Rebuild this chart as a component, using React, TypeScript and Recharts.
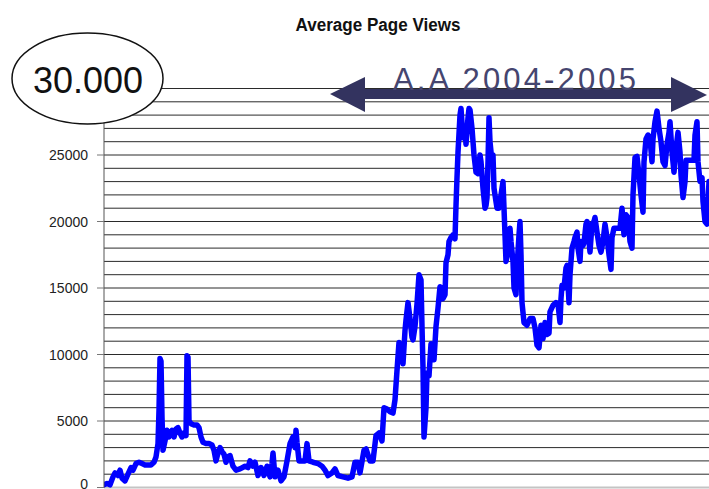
import React from "react";
import {
  LineChart,
  Line,
  XAxis,
  YAxis,
  CartesianGrid,
  ReferenceLine,
} from "recharts";

// day index from the left edge of the plot
const days = [
  0, 3, 6, 9, 11, 14, 16, 18, 21, 24,
  27, 29, 32, 35, 38, 41, 44, 47, 50, 52,
  54, 55, 56, 57, 58, 59, 61, 63, 65, 68,
  70, 72, 74, 76, 78, 80, 82, 83, 84, 85,
  87, 90, 93, 95, 97, 99, 102, 105, 108, 110,
  112, 114, 116, 118, 120, 122, 124, 126, 129, 132,
  136, 141, 144, 146, 149, 151, 154, 157, 160, 163,
  166, 168, 169, 171, 174, 177, 180, 183, 186, 189,
  191, 192, 193, 195, 198, 201, 203, 205, 209, 214,
  218, 221, 224, 228, 231, 234, 239, 244, 248, 251,
  254, 256, 260, 262, 266, 269, 272, 275, 278, 280,
  283, 286, 289, 291, 293, 295, 297, 299, 301, 302,
  304, 306, 308, 309, 311, 313, 315, 317, 318, 319,
  320, 322, 323, 325, 327, 329, 330, 332, 334, 336,
  338, 339, 341, 342, 344, 345, 347, 349, 351, 352,
  353, 354, 356, 357, 359, 361, 362, 364, 365, 366,
  368, 370, 372, 374, 376, 377, 379, 381, 382, 383,
  384, 385, 386, 388, 389, 390, 392, 393, 395, 397,
  399, 401, 402, 404, 406, 407, 409, 410, 412, 413,
  415, 416, 417, 418, 420, 423, 426, 429, 431, 433,
  435, 437, 439, 441, 443, 445, 446, 449, 452, 454,
  456, 457, 458, 460, 462, 463, 465, 466, 468, 470,
  471, 473, 474, 476, 477, 479, 480, 482, 483, 485,
  486, 488, 490, 491, 493, 495, 497, 499, 501, 503,
  505, 507, 508, 510, 513, 516, 518, 520, 522, 524,
  526, 528, 529, 531, 533, 535, 537, 539, 540, 542,
  544, 546, 548, 549, 551, 553, 555, 557, 559, 561,
  563, 565, 566, 568, 570, 572, 574, 576, 577, 579,
  581, 582, 584, 586, 588, 590, 591, 593, 594, 596,
  598, 599, 601, 603, 605,
];

const views = [
  200, 300, 200, 800, 1100, 900, 1300, 700, 500, 1000,
  1500, 1300, 1800, 1900, 1800, 1700, 1700, 1700, 1900, 2300,
  3300, 5800, 9700, 9500, 5300, 2800, 3500, 4300, 3800, 4300,
  3800, 4400, 4500, 4100, 3800, 4100, 3900, 9900, 9800, 5000,
  4800, 4700, 4700, 4500, 3800, 3400, 3300, 3300, 3200, 2800,
  2000, 2600, 3000, 2700, 2500, 1900, 2300, 2400, 1600, 1300,
  1400, 1600, 1500, 2000, 1600, 1900, 900, 1500, 900, 1600,
  800, 1800, 2600, 800, 1300, 500, 800, 2000, 3300, 3800,
  3000, 4300, 3400, 2000, 2000, 2000, 3300, 2000, 1900, 1800,
  1600, 1300, 900, 1100, 1400, 900, 800, 700, 800, 1900,
  1900, 1100, 2800, 2900, 2000, 2000, 3900, 4100, 3500, 6000,
  5900, 5700, 5600, 6600, 8800, 10900, 10300, 9300, 11800, 12600,
  13900, 12700, 11300, 11100, 12100, 13800, 16000, 15600, 12100, 9000,
  3800, 6000, 8600, 8400, 10800, 10500, 9600, 12100, 13500, 15100,
  15000, 14200, 14500, 16900, 17500, 18500, 18800, 19000, 18700, 21200,
  23300, 25200, 28000, 28500, 26300, 27000, 25800, 27800, 28500, 28400,
  27000, 25000, 23700, 23600, 25000, 24500, 22500, 21000, 21200, 21800,
  24500, 27800, 26000, 24500, 25000, 22500, 21500, 21000, 21000, 22000,
  23000, 19000, 17000, 17700, 19500, 18500, 17000, 15000, 14500, 16500,
  19000, 20000, 17500, 13900, 12400, 12200, 12700, 12700, 12000, 10700,
  10500, 12200, 11200, 12400, 11500, 11600, 13200, 13700, 13900, 13800,
  12400, 14200, 15200, 15000, 16500, 16700, 13900, 16000, 18000, 18500,
  18800, 19200, 18000, 17000, 18500, 18200, 18400, 19800, 20000, 18500,
  17700, 19800, 20000, 20300, 19200, 18200, 17700, 18500, 19800, 18800,
  17500, 16400, 18800, 19500, 19500, 19500, 21000, 19000, 20500, 20300,
  18500, 18000, 22000, 24800, 24900, 23500, 22000, 20700, 24500, 26200,
  26500, 26200, 24500, 26200, 27500, 28300, 27000, 26000, 24500, 24200,
  25800, 26700, 27500, 25200, 23700, 25500, 26700, 25200, 23500, 21800,
  23000, 24600, 24600, 24600, 24600, 24600, 26500, 27500, 24500, 23000,
  23300, 21500, 20000, 19800, 23000,
];

// one grid line per 1000, labels every 5000
const yTicks = [
  0, 1000, 2000, 3000, 4000, 5000, 6000, 7000, 8000, 9000,
  10000, 11000, 12000, 13000, 14000, 15000, 16000, 17000, 18000, 19000,
  20000, 21000, 22000, 23000, 24000, 25000, 26000, 27000, 28000, 29000,
  30000,
];
const labelledTicks = [0, 5000, 10000, 15000, 20000, 25000];

const data = days.map((d, i) => ({ day: d, views: views[i] }));

const FONT = '"Liberation Sans", Arial, Helvetica, sans-serif';

const YTick = (props: any) => {
  const { y, payload } = props;
  if (!labelledTicks.includes(payload.value)) return <g />;
  // the zero label sits on the bottom edge; keep its baseline inside
  const dy = payload.value === 0 ? 1 : 5;
  return (
    <g>
      <line x1={97} x2={104} y1={y} y2={y} stroke="#777" />
      <text
        x={88}
        y={y}
        dy={dy}
        textAnchor="end"
        fontSize={14}
        fill="#222"
        fontFamily={FONT}
      >
        {payload.value}
      </text>
    </g>
  );
};

export default function App() {
  return (
    <div
      style={{
        position: "absolute",
        left: 0,
        top: 0,
        width: 709,
        height: 489,
        background: "#fff",
        overflow: "hidden",
      }}
    >
      <LineChart
        width={709}
        height={489}
        data={data}
        margin={{ top: 88.5, right: 0, left: 44, bottom: 1.5 }}
      >
        <CartesianGrid
          vertical={false}
          stroke="#2a2a2a"
          strokeWidth={1}
        />
        <XAxis
          dataKey="day"
          type="number"
          domain={[0, 605]}
          hide
          allowDataOverflow
        />
        <YAxis
          domain={[0, 30000]}
          ticks={yTicks}
          interval={0}
          width={60}
          tickLine={false}
          axisLine={{ stroke: "#555" }}
          tick={<YTick />}
        />
        <ReferenceLine y={0} stroke="#c4c4c4" strokeWidth={2} />
        <Line
          type="linear"
          dataKey="views"
          stroke="#0000ff"
          strokeWidth={5.5}
          strokeLinejoin="round"
          strokeLinecap="round"
          dot={false}
          isAnimationActive={false}
        />
      </LineChart>

      <svg
        width={709}
        height={489}
        style={{ position: "absolute", left: 0, top: 0, pointerEvents: "none" }}
      >
        <text
          x={378}
          y={31}
          textAnchor="middle"
          fontSize={18}
          fontWeight="bold"
          fill="#111"
          fontFamily={FONT}
          textLength={165}
          lengthAdjust="spacingAndGlyphs"
        >
          Average Page Views
        </text>

        <ellipse cx={87.5} cy={78.5} rx={75.5} ry={45.5} fill="#fff" stroke="#111" strokeWidth={1.5} />
        <text
          x={88}
          y={93}
          textAnchor="middle"
          fontSize={36}
          fill="#111"
          fontFamily={FONT}
        >
          30.000
        </text>

        <rect x={360} y={89} width={316} height={10} fill="#33335f" />
        <polygon points="330,94 365,77 365,112" fill="#33335f" />
        <polygon points="707,95 671,77 671,112" fill="#33335f" />
        <text
          x={393}
          y={90}
          fontSize={31}
          fill="#45456f"
          fontFamily={FONT}
          textLength={243}
          lengthAdjust="spacing"
        >
          A.A 2004-2005
        </text>
      </svg>
    </div>
  );
}
